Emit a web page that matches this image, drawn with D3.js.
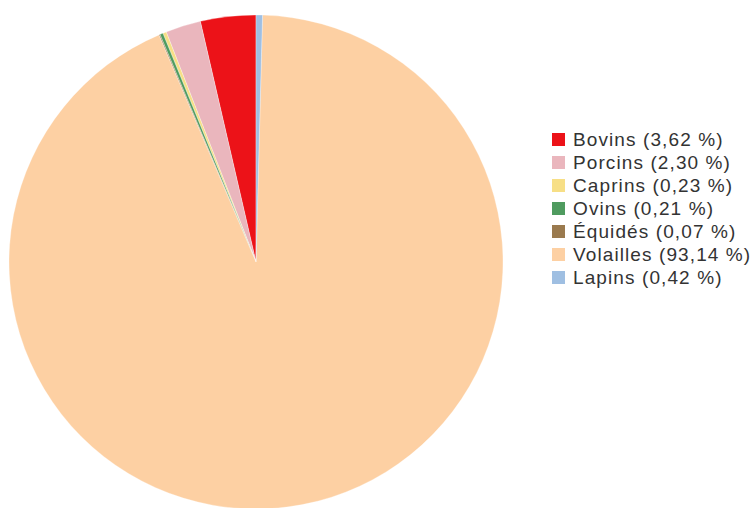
<!DOCTYPE html>
<html><head><meta charset="utf-8">
<script src="https://cdn.jsdelivr.net/npm/d3@7"></script>
<style>html,body{margin:0;padding:0;background:#fff;}svg{display:block;}</style>
</head><body>
<svg id="chart" width="756" height="508"></svg>
<script>
const categories = ["Bovins","Porcins","Caprins","Ovins","Équidés","Volailles","Lapins"];
const values = [3.62, 2.30, 0.23, 0.21, 0.07, 93.14, 0.42];
const labels = ["Bovins (3,62 %)","Porcins (2,30 %)","Caprins (0,23 %)","Ovins (0,21 %)","Équidés (0,07 %)","Volailles (93,14 %)","Lapins (0,42 %)"];
const colors = ["#ec1218","#eab6bd","#f7df86","#4f9b5f","#9a7a4e","#fdd0a3","#9fbfe2"];

const svg = d3.select("#chart");
const cx = 256, cy = 262, r = 247;
const data = categories.map((c,i)=>({name:c, value:values[i], label:labels[i], color:colors[i]}));
const pie = d3.pie().sort(null).value(d=>d.value).startAngle(0).endAngle(-2*Math.PI);
const arc = d3.arc().innerRadius(0).outerRadius(r);
const g = svg.append("g").attr("transform",`translate(${cx},${cy})`);
g.selectAll("path").data(pie(data)).join("path")
  .attr("d",arc).attr("fill",d=>d.data.color)
  .attr("stroke","#fff").attr("stroke-width",0.3);

const y = d3.scalePoint().domain(categories).range([139.5, 277.5]);
const leg = svg.append("g");
const items = leg.selectAll("g").data(data).join("g")
  .attr("transform",d=>`translate(552,${y(d.name)})`);
items.append("rect").attr("x",0).attr("y",-6.5).attr("width",13).attr("height",13).attr("fill",d=>d.color);
items.append("text").attr("x",21).attr("y",0).attr("dy","0.36em")
  .attr("font-family","Liberation Sans, Arial, sans-serif").attr("font-size",19)
  .attr("letter-spacing",1.1)
  .attr("fill","#333").text(d=>d.label);
</script>
</body></html>
